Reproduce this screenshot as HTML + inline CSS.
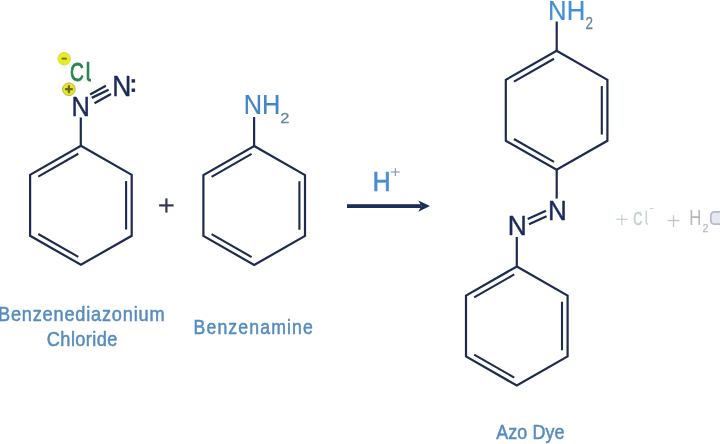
<!DOCTYPE html>
<html><head><meta charset="utf-8"><style>
html,body{margin:0;padding:0;background:#fff;width:720px;height:444px;overflow:hidden}
svg{display:block;will-change:transform}
</style></head><body>
<svg width="720" height="444" viewBox="0 0 720 444" style='font-family:"Liberation Sans",sans-serif'>
<style>.b{fill:none;stroke:#1e2b50;stroke-width:2.2;stroke-linejoin:miter;stroke-linecap:butt}.i{stroke-width:2.1}</style>
<polygon points="80.90,145.80 131.70,174.85 131.70,235.75 80.90,264.80 30.10,235.75 30.10,174.85" class="b"/>
<line x1="38.26" y1="176.63" x2="78.30" y2="153.74" class="b i"/>
<line x1="126.10" y1="181.05" x2="126.10" y2="229.55" class="b i"/>
<line x1="78.30" y1="256.86" x2="38.26" y2="233.97" class="b i"/>
<polygon points="254.20,146.00 305.00,175.05 305.00,235.95 254.20,265.00 203.40,235.95 203.40,175.05" class="b"/>
<line x1="211.56" y1="176.83" x2="251.60" y2="153.94" class="b i"/>
<line x1="299.40" y1="181.25" x2="299.40" y2="229.75" class="b i"/>
<line x1="251.60" y1="257.06" x2="211.56" y2="234.17" class="b i"/>
<polygon points="556.60,50.80 607.40,79.85 607.40,140.75 556.60,169.80 505.80,140.75 505.80,79.85" class="b"/>
<line x1="513.96" y1="81.63" x2="554.00" y2="58.74" class="b i"/>
<line x1="601.80" y1="86.05" x2="601.80" y2="134.55" class="b i"/>
<line x1="554.00" y1="161.86" x2="513.96" y2="138.97" class="b i"/>
<polygon points="516.80,266.50 567.60,295.55 567.60,356.45 516.80,385.50 466.00,356.45 466.00,295.55" class="b"/>
<line x1="474.16" y1="297.33" x2="514.20" y2="274.44" class="b i"/>
<line x1="562.00" y1="301.75" x2="562.00" y2="350.25" class="b i"/>
<line x1="514.20" y1="377.56" x2="474.16" y2="354.67" class="b i"/>
<line x1="80.8" y1="117.5" x2="80.8" y2="146.5" class="b"/>
<line x1="254.1" y1="117" x2="254.1" y2="146.5" class="b"/>
<line x1="556.7" y1="21.5" x2="556.7" y2="51.5" class="b"/>
<line x1="556.7" y1="169.5" x2="556.7" y2="198.6" class="b"/>
<line x1="516.8" y1="237" x2="516.8" y2="267" class="b"/>
<line x1="90.1" y1="94.5" x2="105.9" y2="85.7" class="b" style="stroke-width:2.3"/>
<line x1="91.8" y1="97.9" x2="108.6" y2="89.8" class="b" style="stroke-width:2.3"/>
<line x1="94.5" y1="103.3" x2="111" y2="93.9" class="b" style="stroke-width:2.3"/>
<line x1="527.7" y1="218.9" x2="546" y2="210.8" class="b" style="stroke-width:2.2"/>
<line x1="529" y1="224.3" x2="546.6" y2="216.2" class="b" style="stroke-width:2.2"/>
<text transform="translate(71.43,115.88) scale(0.9304,1)" font-size="27.40" fill="#1c295c" stroke="#1c295c" stroke-width="0.45" stroke-linejoin="round">N</text>
<text transform="translate(112.16,96.48) scale(0.9192,1)" font-size="28.71" fill="#1c295c" stroke="#1c295c" stroke-width="0.45" stroke-linejoin="round">N</text>
<text transform="translate(548.09,219.97) scale(0.9551,1)" font-size="27.25" fill="#1c295c" stroke="#1c295c" stroke-width="0.45" stroke-linejoin="round">N</text>
<text transform="translate(507.86,235.18) scale(0.9631,1)" font-size="27.40" fill="#1c295c" stroke="#1c295c" stroke-width="0.45" stroke-linejoin="round">N</text>
<rect x="131.6" y="79.2" width="3.5" height="3.4" fill="#1e2b55"/>
<rect x="131.6" y="88.5" width="3.5" height="3.4" fill="#1e2b55"/>
<text transform="translate(70.07,81.05) scale(0.7220,1)" font-size="26.69" fill="#2a8456" stroke="#2a8456" stroke-width="0.90" stroke-linejoin="round">C</text>
<path d="M88.0 61.8V78.2Q88.0 80.3 91.0 80.3" fill="none" stroke="#2a8456" stroke-width="2.6"/>
<circle cx="64.2" cy="58.7" r="6.3" fill="#e4ee22" stroke="#d2d838" stroke-width="0.8"/>
<line x1="61.6" y1="58.6" x2="66.8" y2="58.6" stroke="#6a6a18" stroke-width="1.8"/>
<circle cx="68.9" cy="89.2" r="6.3" fill="#e2e62e" stroke="#b8b830" stroke-width="1"/>
<line x1="65" y1="89.2" x2="72.8" y2="89.2" stroke="#6a6414" stroke-width="2.2"/>
<line x1="68.9" y1="85.3" x2="68.9" y2="93.1" stroke="#6a6414" stroke-width="2.2"/>
<text transform="translate(243.72,113.60) scale(0.9236,1)" font-size="27.47" fill="#3f85c8" stroke="#3f85c8" stroke-width="0.20" stroke-linejoin="round">NH</text>
<text transform="translate(280.13,123.15) scale(1.0934,1)" font-size="15.04" fill="#6a87a4" stroke="#6a87a4" stroke-width="0.30" stroke-linejoin="round">2</text>
<text transform="translate(548.09,19.50) scale(0.9427,1)" font-size="27.33" fill="#4390d8" stroke="#4390d8" stroke-width="0.20" stroke-linejoin="round">NH</text>
<text transform="translate(585.48,28.65) scale(0.8488,1)" font-size="15.76" fill="#6c8598" stroke="#6c8598" stroke-width="0.30" stroke-linejoin="round">2</text>
<text transform="translate(372.64,191.45) scale(0.8874,1)" font-size="27.62" fill="#4a8cd0" stroke="#4a8cd0" stroke-width="0.70" stroke-linejoin="round">H</text>
<line x1="391" y1="172" x2="399.7" y2="172" stroke="#8a9ab0" stroke-width="1.2"/>
<line x1="395.4" y1="168.3" x2="395.4" y2="175.9" stroke="#8a9ab0" stroke-width="1.2"/>
<rect x="347" y="204.2" width="74" height="3.8" fill="#192e58"/>
<polygon points="418.3,200.6 430,206.1 418.3,211.8 421.5,206.1" fill="#192e58"/>
<rect x="159.1" y="204.3" width="14.5" height="2.2" fill="#2f3a50"/>
<rect x="165.3" y="198.4" width="2.2" height="14.2" fill="#2f3a50"/>
<text transform="translate(-2.04,321.35) scale(0.9000,1)" font-size="20.20" fill="#548cbf" stroke="#548cbf" stroke-width="0.50" stroke-linejoin="round" letter-spacing="0.894">Benzenediazonium</text>
<text transform="translate(46.82,346.05) scale(0.9000,1)" font-size="20.20" fill="#548cbf" stroke="#548cbf" stroke-width="0.50" stroke-linejoin="round" letter-spacing="0.462">Chloride</text>
<text transform="translate(193.50,333.95) scale(0.9000,1)" font-size="19.62" fill="#548cbf" stroke="#548cbf" stroke-width="0.50" stroke-linejoin="round" letter-spacing="1.271">Benzenamine</text>
<text transform="translate(496.21,438.95) scale(0.9000,1)" font-size="19.91" fill="#548cbf" stroke="#548cbf" stroke-width="0.50" stroke-linejoin="round" letter-spacing="0.111">Azo Dye</text>
<rect x="616.3" y="218.7" width="11.4" height="1.3" fill="#c8d4cf"/>
<rect x="621.2" y="214.6" width="1.3" height="10.6" fill="#c8d4cf"/>
<text transform="translate(633.26,224.50) scale(0.6779,1)" font-size="18.64" fill="#bfd4ca" stroke="#bfd4ca" stroke-width="0.60" stroke-linejoin="round">C</text>
<path d="M646.3 210.6V222.6Q646.3 224.2 648.2 224.2" fill="none" stroke="#c4d8ce" stroke-width="1.6"/>
<rect x="650" y="208" width="3.4" height="1" fill="#c8d0d0"/>
<rect x="667.7" y="219.9" width="11.7" height="1.3" fill="#c4c4c8"/>
<rect x="672.9" y="215.3" width="1.3" height="11.7" fill="#c4c4c8"/>
<text transform="translate(689.22,225.20) scale(0.7817,1)" font-size="21.51" fill="#b6b8bf">H</text>
<text transform="translate(702.61,231.55) scale(0.9376,1)" font-size="11.46" fill="#bbbdc4" stroke="#bbbdc4" stroke-width="0.30" stroke-linejoin="round">2</text>
<rect x="710.8" y="211.8" width="12" height="12.4" rx="4" fill="#e6e9f2" stroke="#b6bbc7" stroke-width="1.8"/>
</svg>
</body></html>
